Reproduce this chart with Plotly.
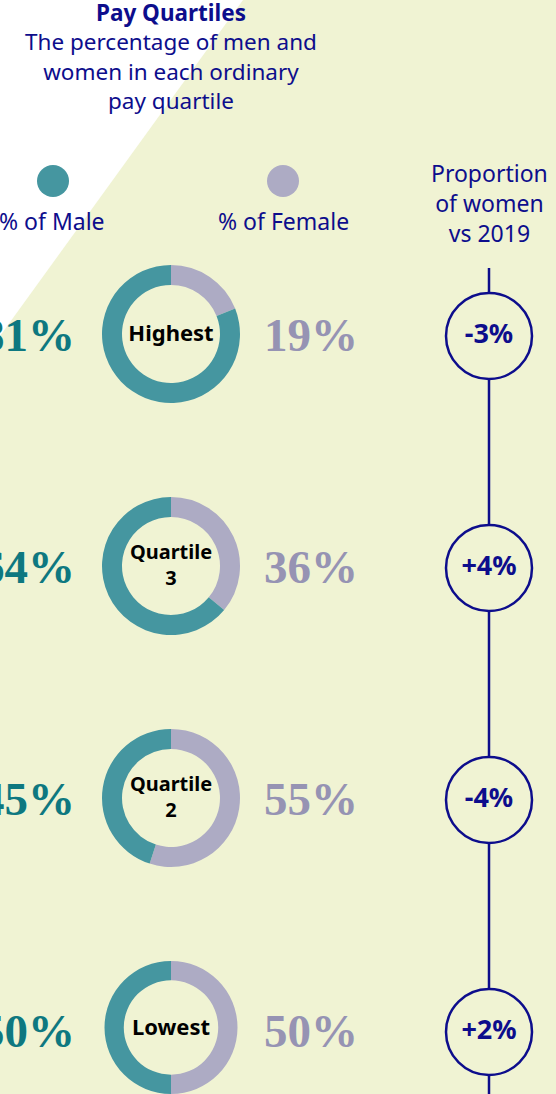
import plotly.graph_objects as go

# ---- data ----
quartiles = ["Highest", "Quartile<br>3", "Quartile<br>2", "Lowest"]
male_pct = [81, 64, 45, 50]
female_pct = [19, 36, 55, 50]
change_vs_2019 = ["-3%", "+4%", "-4%", "+2%"]
title_text = "Pay Quartiles"
subtitle_lines = ["The percentage of men and", "women in each ordinary", "pay quartile"]

# ---- styling / layout constants ----
W, H = 556, 1094
BG = "#f0f3d3"
TEAL = "#4596a0"
LAV = "#adabc4"
MALE_TXT = "#0e7880"
FEMALE_TXT = "#9693b3"
NAVY = "#0d0d8c"
SANS = "Noto Sans"
SERIF = "Liberation Serif"

row_y = [334, 566, 798, 1030]
donut_cx, donut_r = 171, 69
male_x, female_x, right_x = 28, 311, 489

fig = go.Figure()

# donuts
for i, q in enumerate(quartiles):
    cy = row_y[i]
    y0 = max(0, (H - cy - donut_r) / H)
    y1 = min(1, (H - cy + donut_r) / H)
    fig.add_trace(go.Pie(
        values=[female_pct[i], male_pct[i]],
        labels=["Female", "Male"],
        marker=dict(colors=[LAV, TEAL], line=dict(width=0)),
        hole=0.71, sort=False, direction="clockwise", rotation=0,
        textinfo="none", hoverinfo="label+percent", showlegend=False,
        title=dict(text="<b>" + q + "</b>", position="middle center",
                   font=dict(family=SANS, size=22, color="#000000")),
        domain=dict(x=[(donut_cx - donut_r) / W, (donut_cx + donut_r) / W], y=[y0, y1]),
    ))

# male / female percentage labels
fig.add_trace(go.Scatter(
    x=[male_x] * len(male_pct), y=[y + 5 for y in row_y],
    mode="text", text=[f"<b>{v}%</b>" for v in male_pct],
    textfont=dict(family=SERIF, size=47, color=MALE_TXT),
    textposition="middle center", hoverinfo="skip", showlegend=False,
))
fig.add_trace(go.Scatter(
    x=[female_x] * len(female_pct), y=[y + 5 for y in row_y],
    mode="text", text=[f"<b>{v}%</b>" for v in female_pct],
    textfont=dict(family=SERIF, size=47, color=FEMALE_TXT),
    textposition="middle center", hoverinfo="skip", showlegend=False,
))

# right column: vertical line and circles
fig.add_trace(go.Scatter(
    x=[right_x, right_x], y=[268, H], mode="lines",
    line=dict(color=NAVY, width=2.5), hoverinfo="skip", showlegend=False,
))
fig.add_trace(go.Scatter(
    x=[right_x] * len(change_vs_2019), y=[y + 2 for y in row_y],
    mode="markers+text", text=[f"<b>{c}</b>" for c in change_vs_2019],
    marker=dict(size=86, color=BG, line=dict(color=NAVY, width=2.5)),
    textfont=dict(family=SANS, size=27, color=NAVY),
    textposition="middle center", showlegend=False,
))

# legend dots
fig.add_trace(go.Scatter(
    x=[53, 283], y=[181, 181], mode="markers",
    marker=dict(size=32, color=[TEAL, LAV], line=dict(width=0)),
    hoverinfo="skip", showlegend=False,
))

header = "<b>" + title_text + "</b><br>" + "<br>".join(subtitle_lines)
annotations = [
    dict(x=171, y=56, text=header, font=dict(family=SANS, size=22.5, color=NAVY)),
    dict(x=52, y=221, text="% of Male", font=dict(family=SANS, size=23, color=NAVY)),
    dict(x=283, y=221, text="% of Female", font=dict(family=SANS, size=23, color=NAVY)),
    dict(x=489, y=203, text="Proportion<br>of women<br>vs 2019", font=dict(family=SANS, size=23, color=NAVY)),
]
for a in annotations:
    a.update(xref="x", yref="y", showarrow=False, xanchor="center", yanchor="middle")

fig.update_layout(
    width=W, height=H,
    margin=dict(l=0, r=0, t=0, b=0),
    paper_bgcolor=BG, plot_bgcolor="rgba(0,0,0,0)",
    xaxis=dict(range=[0, W], visible=False, fixedrange=True),
    yaxis=dict(range=[H, 0], visible=False, fixedrange=True),
    shapes=[dict(type="path", xref="x", yref="y", path="M 0 0 L 243 0 L 0 336 Z",
                 fillcolor="#ffffff", line=dict(width=0), layer="below")],
    annotations=annotations,
)

fig.write_html(
    "out.html",
    config={"displayModeBar": False},
    post_script="document.body.style.margin='0';document.body.style.overflow='hidden';",
)
